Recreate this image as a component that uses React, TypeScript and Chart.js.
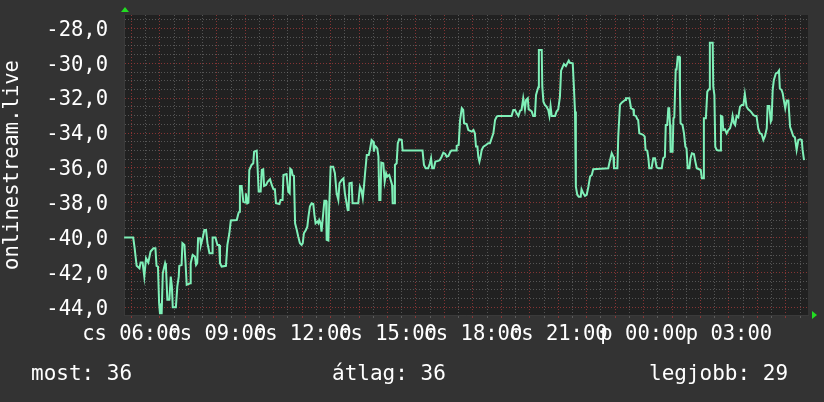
import React, { useEffect, useRef } from 'react';
import { Chart, registerables } from 'chart.js';

Chart.register(...registerables);

// time in hours after "cs 06:00"
const times: number[] = [
  -0.26, 0.06, 0.11, 0.18, 0.28, 0.32, 0.39, 0.45, 0.51, 0.59, 0.67, 0.77, 0.84, 0.88, 0.93, 0.97, 1.0, 1.06, 1.1, 1.18,
  1.21, 1.26, 1.33, 1.38, 1.42, 1.45, 1.56, 1.61, 1.66, 1.68, 1.76, 1.79, 1.86, 1.9, 1.94, 2.06, 2.08, 2.15, 2.23, 2.27,
  2.31, 2.34, 2.41, 2.44, 2.5, 2.56, 2.62, 2.67, 2.74, 2.83, 2.85, 2.95, 3.02, 3.08, 3.11, 3.17, 3.32, 3.37, 3.44, 3.49,
  3.7, 3.76, 3.79, 3.81, 3.87, 3.93, 3.99, 4.02, 4.07, 4.11, 4.14, 4.22, 4.28, 4.31, 4.4, 4.43, 4.47, 4.54, 4.58, 4.63,
  4.66, 4.73, 4.79, 4.87, 4.93, 4.99, 5.04, 5.08, 5.2, 5.24, 5.31, 5.34, 5.45, 5.51, 5.56, 5.58,
  5.63, 5.66, 5.71, 5.75, 5.81, 5.86, 5.92, 5.98, 6.02, 6.06, 6.13, 6.18, 6.22, 6.27, 6.33, 6.39, 6.43, 6.47, 6.53, 6.57,
  6.6, 6.65, 6.68, 6.74, 6.78, 6.84, 6.86, 6.92, 6.95, 7.0, 7.09, 7.15, 7.21, 7.27, 7.31, 7.39, 7.45, 7.5, 7.56, 7.6,
  7.63, 7.66, 7.74, 7.77, 7.97, 8.03, 8.08, 8.13, 8.17, 8.21, 8.27, 8.34, 8.38, 8.44, 8.5, 8.52, 8.56, 8.59, 8.64, 8.68,
  8.71, 8.75, 8.78, 8.85, 8.9, 8.95, 8.99, 9.06, 9.11, 9.16, 9.18, 9.23, 9.26, 9.32, 9.36, 9.41, 9.5, 9.53, 10.23, 10.28,
  10.34, 10.43, 10.49, 10.53, 10.57, 10.63, 10.68, 10.78, 10.84, 10.9, 10.96, 11.03, 11.08, 11.14, 11.21, 11.25, 11.41, 11.43, 11.5, 11.55,
  11.61, 11.66, 11.69, 11.78, 11.84, 11.96, 12.02, 12.07, 12.11, 12.16, 12.19, 12.23, 12.27, 12.31, 12.37, 12.46, 12.54, 12.6, 12.66, 12.72,
  12.78, 12.84, 12.89, 13.36, 13.42, 13.48, 13.54, 13.6, 13.66, 13.71, 13.77, 13.83, 13.87, 13.93, 13.96, 14.01, 14.07, 14.12, 14.18, 14.22,
  14.27, 14.3, 14.32, 14.42, 14.44, 14.48, 14.53, 14.59, 14.65, 14.69, 14.73, 14.77, 14.89, 14.94, 15.0, 15.06, 15.1, 15.16, 15.2, 15.27,
  15.32, 15.37, 15.41, 15.51, 15.55, 15.59, 15.62, 15.67, 15.72, 15.79, 15.82, 15.88, 15.94, 16.0, 16.06, 16.12, 16.18, 16.23, 16.76, 16.8,
  16.88, 16.94, 16.96, 17.08, 17.11, 17.17, 17.23, 17.35, 17.38, 17.5,
  17.56, 17.64, 17.66, 17.73, 17.78, 17.81, 17.85, 17.93, 17.99, 18.04, 18.07, 18.13, 18.17, 18.2, 18.28, 18.34, 18.4, 18.46, 18.52, 18.64,
  18.69, 18.75, 18.78, 18.83, 18.87, 18.9, 18.93, 18.95, 19.02, 19.05, 19.08, 19.13, 19.16, 19.2, 19.26, 19.28, 19.3, 19.37, 19.42, 19.47,
  19.51, 19.55, 19.61, 19.65, 19.7, 19.77, 19.82, 19.87, 20.01, 20.05, 20.09, 20.12, 20.19, 20.24, 20.3, 20.33, 20.43, 20.45, 20.49, 20.52,
  20.57, 20.63, 20.69, 20.72, 20.77, 20.8, 20.86, 20.92, 20.98, 21.04, 21.1, 21.13, 21.18, 21.22, 21.27, 21.33, 21.39, 21.45, 21.51, 21.56,
  21.62, 21.68, 21.74, 21.8, 21.86, 21.92, 21.97, 22.03, 22.09, 22.15, 22.21, 22.27, 22.33, 22.36, 22.42, 22.47, 22.5, 22.54, 22.58, 22.65,
  22.71, 22.76, 22.79, 22.85, 22.89, 22.93, 22.98, 23.03, 23.09, 23.15, 23.21, 23.26, 23.32, 23.38, 23.44, 23.5, 23.56, 23.59, 23.64,
];

const values: number[] = [
  -40.0, -40.0, -40.61, -41.62, -41.76, -41.43, -41.43, -42.24, -41.18, -41.43, -40.8, -40.61, -40.61, -41.62, -41.66, -43.76, -44.34, -44.34, -42.04, -41.47,
  -41.66, -43.57, -43.57, -42.24, -42.81, -44.0, -44.0, -42.81, -42.24, -41.62, -41.57, -40.32, -40.42, -41.47, -42.71, -42.62, -41.47, -40.99, -41.09, -41.57,
  -41.47, -40.04, -40.04, -40.42, -40.04, -39.56, -39.56, -40.32, -40.9, -40.9, -40.0, -40.0, -40.42, -40.42, -41.47, -41.66, -41.62, -40.42, -39.75, -39.02,
  -38.99, -38.6, -38.51, -37.04, -37.04, -37.94, -37.99, -37.46, -38.03, -37.99, -36.12, -35.83, -35.74, -35.07, -35.01, -35.93, -37.36, -37.36, -36.12, -36.08,
  -37.04, -36.98, -36.79, -36.65, -36.98, -37.23, -37.23, -38.03, -38.07, -37.84, -37.84, -36.41, -36.35, -37.36, -37.46, -36.05,
  -36.12, -36.41, -36.46, -39.18, -39.56, -39.94, -40.32, -40.42, -40.32, -39.75, -39.56, -39.37, -38.8, -38.22, -38.03, -38.07, -38.7, -39.18, -39.08, -39.18,
  -38.99, -39.18, -39.66, -38.6, -37.88, -37.88, -40.13, -40.17, -38.22, -35.93, -35.93, -36.31, -37.46, -37.84, -36.88, -36.69, -36.6, -37.46, -38.03, -38.41,
  -38.41, -36.88, -36.85, -38.03, -38.03, -37.08, -37.27, -37.74, -37.08, -36.31, -35.26, -35.26, -34.97, -34.4, -34.5, -35.07, -34.74, -34.78, -34.88, -35.36,
  -37.84, -37.84, -35.7, -35.74, -36.79, -36.31, -36.5, -36.41, -36.69, -36.98, -38.03, -38.03, -35.83, -35.74, -34.59, -34.36, -34.4, -35.01, -35.01, -35.83,
  -36.02, -36.02, -35.74, -35.45, -36.02, -36.02, -35.64, -35.6, -35.55, -35.36, -35.13, -35.2, -35.36, -35.32, -35.07, -35.01, -35.01, -34.74, -34.69, -33.25,
  -32.58, -32.68, -33.44, -33.48, -33.83, -33.92, -33.83, -34.02, -34.78, -34.78, -35.36, -35.64, -35.36, -34.97, -34.78, -34.69, -34.59, -34.59, -34.3, -34.02,
  -33.25, -33.06, -33.02, -33.02, -32.68, -32.68, -32.87, -33.02, -32.72, -32.68, -32.01, -32.64, -32.11, -32.01, -32.64, -32.68, -32.77, -33.02, -33.02, -31.82,
  -31.53, -31.38, -29.24, -29.24, -31.34, -32.2, -32.39, -32.49, -32.68, -33.02, -32.45, -33.02, -33.02, -32.77, -32.64, -31.91, -30.42, -30.19, -30.04, -30.16,
  -30.0, -29.85, -29.97, -30.0, -31.34, -32.77, -37.08, -37.55, -37.65, -37.65, -37.23, -37.46, -37.61, -37.55, -37.08, -36.5, -36.41, -36.08, -36.02, -35.7,
  -35.16, -35.36, -36.02, -36.02, -34.21, -32.39, -32.26, -32.11, -32.01, -32.01,
  -32.58, -32.64, -32.97, -33.02, -33.21, -33.25, -34.02, -34.06, -34.11, -34.21, -34.97, -35.01, -35.45, -36.02, -36.02, -35.45, -35.45, -35.97, -36.02, -36.02,
  -35.45, -35.36, -33.54, -33.54, -32.58, -32.58, -33.54, -35.07, -35.07, -33.16, -33.1, -30.35, -30.35, -29.62, -29.62, -31.72, -33.44, -33.54, -34.02, -34.78,
  -34.88, -36.02, -36.02, -35.45, -35.16, -35.2, -35.64, -36.02, -36.12, -36.6, -36.6, -33.16, -33.16, -31.63, -31.49, -28.82, -28.82, -31.34, -31.82, -34.78,
  -34.97, -35.01, -35.01, -33.02, -33.06, -33.83, -33.79, -34.02, -33.83, -33.73, -33.35, -33.02, -33.44, -33.54, -33.02, -33.1, -32.49, -32.39, -32.39, -31.76,
  -32.49, -32.64, -32.72, -32.83, -32.97, -33.02, -33.02, -33.73, -34.02, -34.06, -34.4, -34.17, -33.73, -32.45, -32.45, -33.35, -33.25, -31.49, -30.96, -30.58,
  -30.54, -30.42, -31.44, -31.53, -31.72, -32.11, -32.58, -32.14, -32.14, -33.64, -33.92, -34.17, -34.25, -34.97, -34.4, -34.36, -34.4, -34.97, -35.55,
];

const xTickHours: number[] = [0, 3, 6, 9, 12, 15, 18, 21];
const xTickLabels: string[] = ['cs 06:00', 'cs 09:00', 'cs 12:00', 'cs 15:00', 'cs 18:00', 'cs 21:00', 'p 00:00', 'p 03:00'];
const yTitle = 'onlinestream.live';
const legendTexts: string[] = ['most: 36', 'átlag: 36', 'legjobb: 29'];

const xMin = -0.264;
const xMax = 23.78;
const yMin = -44.44;
const yMax = -27.23;

const FONT = "'DejaVu Sans Mono', monospace";
const RED = 'rgba(150, 55, 55, 0.85)';
const GRAY = 'rgba(120, 120, 120, 0.6)';

export default function App() {
  const ref = useRef<HTMLCanvasElement>(null);

  useEffect(() => {
    document.body.style.margin = '0';
    const points = times.map((t, i) => ({ x: t, y: values[i] }));

    const bgPlugin = {
      id: 'bgPlugin',
      beforeDraw(chart: any) {
        const { ctx, chartArea } = chart;
        ctx.save();
        ctx.fillStyle = '#212121';
        ctx.fillRect(chartArea.left, chartArea.top, chartArea.right - chartArea.left, chartArea.bottom - chartArea.top);
        ctx.restore();
      },
      afterDraw(chart: any) {
        const { ctx, chartArea } = chart;
        ctx.save();
        ctx.fillStyle = '#22dd22';
        ctx.beginPath();
        ctx.moveTo(chartArea.left - 3, chartArea.top - 3);
        ctx.lineTo(chartArea.left + 5, chartArea.top - 3);
        ctx.lineTo(chartArea.left + 1, chartArea.top - 8);
        ctx.closePath();
        ctx.fill();
        ctx.beginPath();
        ctx.moveTo(chartArea.right + 4, chartArea.bottom - 4);
        ctx.lineTo(chartArea.right + 4, chartArea.bottom + 4);
        ctx.lineTo(chartArea.right + 9, chartArea.bottom);
        ctx.closePath();
        ctx.fill();
        ctx.restore();
      },
    };

    const chart = new Chart(ref.current as HTMLCanvasElement, {
      type: 'line',
      data: {
        datasets: [
          {
            data: points,
            borderColor: '#7ff0b8',
            borderWidth: 2,
            pointRadius: 0,
            tension: 0,
            fill: false,
          },
        ],
      },
      options: {
        responsive: false,
        animation: false,
        devicePixelRatio: 1,
        parsing: false,
        layout: { padding: { top: 15, right: 16, left: 0, bottom: 0 } },
        plugins: { legend: { display: false }, tooltip: { enabled: false } },
        scales: {
          x: {
            type: 'linear',
            min: xMin,
            max: xMax,
            afterBuildTicks: (s: any) => {
              const arr: any[] = [];
              for (let h = 0; h <= xMax; h += 0.5) arr.push({ value: h });
              s.ticks = arr;
            },
            afterFit: (s: any) => {
              s.height = 87;
              s.paddingLeft = 0;
              s.paddingRight = 0;
              s.paddingTop = 0;
              s.paddingBottom = 0;
            },
            grid: {
              color: (c: any) => (Number.isInteger(c.tick?.value) ? RED : GRAY),
              tickColor: (c: any) => (Number.isInteger(c.tick?.value) ? RED : GRAY),
              lineWidth: 1,
              drawTicks: true,
              tickLength: 3,
            },
            border: { display: true, color: '#3a3a3a', dash: [1, 2] },
            ticks: {
              autoSkip: false,
              maxRotation: 0,
              minRotation: 0,
              color: '#ffffff',
              padding: 4,
              font: { family: FONT, size: 20.5 },
              callback: (v: any) => {
                const idx = xTickHours.indexOf(Number(v));
                return idx >= 0 ? xTickLabels[idx] : '';
              },
            },
          },
          y: {
            type: 'linear',
            min: yMin,
            max: yMax,
            afterBuildTicks: (s: any) => {
              const arr: any[] = [];
              for (let v = -44; v <= yMax; v += 0.5) arr.push({ value: v });
              s.ticks = arr;
            },
            afterFit: (s: any) => {
              s.width = 124;
              s.paddingLeft = 0;
              s.paddingRight = 0;
              s.paddingTop = 0;
              s.paddingBottom = 0;
            },
            grid: {
              color: (c: any) => (c.tick && c.tick.value % 2 === 0 ? RED : GRAY),
              lineWidth: 1,
              drawTicks: false,
            },
            border: { display: true, color: '#3a3a3a', dash: [1, 2] },
            ticks: {
              autoSkip: false,
              color: '#ffffff',
              padding: 16,
              labelOffset: 2,
              font: { family: FONT, size: 20.5 },
              callback: (v: any) => (Number(v) % 2 === 0 ? Number(v).toFixed(1).replace('.', ',') : ''),
            },
            title: {
              display: true,
              text: yTitle,
              color: '#ffffff',
              padding: 0,
              font: { family: FONT, size: 20.5 },
            },
          },
        },
      },
      plugins: [bgPlugin],
    } as any);
    return () => chart.destroy();
  }, []);

  const legendLeft = [31, 332, 649];

  return (
    <div style={{ position: 'relative', width: 824, height: 402, background: '#333333', overflow: 'hidden' }}>
      <canvas ref={ref} width={824} height={402} style={{ display: 'block', width: 824, height: 402 }} />
      {legendTexts.map((t, i) => (
        <span
          key={i}
          style={{
            position: 'absolute',
            left: legendLeft[i],
            top: 363,
            fontFamily: FONT,
            fontSize: 21,
            lineHeight: '21px',
            color: '#ffffff',
            whiteSpace: 'pre',
          }}
        >
          {t}
        </span>
      ))}
    </div>
  );
}
